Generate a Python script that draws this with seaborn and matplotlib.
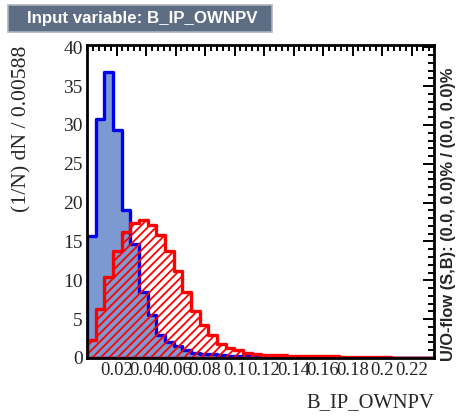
import numpy as np
import pandas as pd
import seaborn as sns
import matplotlib
matplotlib.use("Agg")
import matplotlib.pyplot as plt
from matplotlib.patches import Rectangle
from matplotlib.ticker import MultipleLocator

# ---- data (normalised histograms, bin width 0.00588) ----
bin_width = 0.00588
n_bins = 40
signal = [15.7, 30.8, 36.8, 29.3, 19.1, 14.7, 8.5, 5.5, 2.9, 2.05,
          1.5, 1.0, 0.6, 0.55, 0.5, 0.35, 0.3, 0.3, 0.25, 0.2,
          0.15, 0.15, 0.1, 0.1, 0.1, 0.08, 0.06, 0.05, 0.05, 0.05,
          0.04, 0.03, 0.03, 0.03, 0.02, 0.02, 0.02, 0.02, 0.01, 0.01]
background = [2.3, 6.3, 10.4, 13.8, 16.2, 17.4, 17.8, 17.1, 15.9, 13.8,
              11.2, 8.5, 6.1, 4.3, 2.9, 1.8, 1.3, 1.0, 0.7, 0.55,
              0.4, 0.35, 0.35, 0.3, 0.3, 0.25, 0.25, 0.2, 0.2, 0.15,
              0.15, 0.1, 0.1, 0.1, 0.08, 0.06, 0.05, 0.05, 0.04, 0.03]
x_ticks = [0.02, 0.04, 0.06, 0.08, 0.10, 0.12, 0.14, 0.16, 0.18, 0.20, 0.22]
x_tick_labels = ["0.02", "0.04", "0.06", "0.08", "0.1", "0.12", "0.14",
                 "0.16", "0.18", "0.2", "0.22"]
y_ticks = [0, 5, 10, 15, 20, 25, 30, 35, 40]

edges = [i * bin_width for i in range(n_bins + 1)]
centers = [(edges[i] + edges[i + 1]) / 2 for i in range(n_bins)]
df = pd.DataFrame({"x": centers, "sig": signal, "bkg": background})

sns.set_style("white")
plt.rcParams["hatch.linewidth"] = 1.3

W, H = 457, 418
fig = plt.figure(figsize=(W / 100, H / 100), dpi=100)
ax = fig.add_axes([87 / W, 1 - 358 / H, (434 - 87) / W, (358 - 45) / H])

sns.histplot(data=df, x="x", weights="sig", bins=edges, element="step",
             fill=True, color="#7d99d1", alpha=1, ax=ax)
sns.histplot(data=df, x="x", weights="bkg", bins=edges, element="step",
             fill=True, color="red", alpha=1, ax=ax)

c_sig, c_bkg = ax.collections[0], ax.collections[1]
c_sig.set_facecolor("#7d99d1")
c_sig.set_edgecolor("#0000f0")
c_sig.set_linewidth(2.4)
c_bkg.set_facecolor("none")
c_bkg.set_edgecolor("#ff0000")
c_bkg.set_linewidth(2.4)
c_bkg.set_hatch("////")
c_bkg.set_zorder(3)
c_sig.set_zorder(2)

ax.set_xlim(0, edges[-1])
ax.set_ylim(0, 40.3)
ax.set_xticks(x_ticks)
ax.set_xticklabels(x_tick_labels)
ax.set_yticks(y_ticks)
ax.xaxis.set_minor_locator(MultipleLocator(0.004))
ax.yaxis.set_minor_locator(MultipleLocator(1))
ax.tick_params(which="both", direction="in", top=True, right=True,
               width=1.4, color="black", pad=3)
ax.tick_params(axis="x", labelsize=13.5)
ax.tick_params(axis="y", labelsize=14)
ax.tick_params(which="major", length=8)
ax.tick_params(which="minor", length=4)
for lab in ax.get_xticklabels() + ax.get_yticklabels():
    lab.set_fontfamily("Liberation Serif")
for s in ax.spines.values():
    s.set_linewidth(2)
    s.set_color("black")
    s.set_zorder(5)
ax.set_xlabel("")
ax.set_ylabel("")

fig.text(434 / W, 1 - 403 / H, "B_IP_OWNPV", ha="right", va="center",
         fontsize=14.8, family="Liberation Serif")
fig.text(22 / W, 1 - 46 / H, "(1/N) dN / 0.00588", ha="center", va="top",
         rotation=90, fontsize=15.6, family="Liberation Serif")
fig.text(449 / W, 1 - 361 / H, "U/O-flow (S,B): (0.0, 0.0)% / (0.0, 0.0)%",
         ha="center", va="bottom", rotation=90, fontsize=11.8,
         fontweight="bold", family="Liberation Sans")

fig.patches.append(Rectangle((8 / W, 1 - 32 / H), 264 / W, 27 / H,
                             transform=fig.transFigure, facecolor="#5c6d84",
                             edgecolor="#aab3c0", linewidth=1.2))
fig.text(142 / W, 1 - 18.5 / H, "Input variable: B_IP_OWNPV", ha="center",
         va="center", color="white", fontsize=12.2, fontweight="bold",
         family="Liberation Sans")

fig.savefig("out.png", dpi=100)
